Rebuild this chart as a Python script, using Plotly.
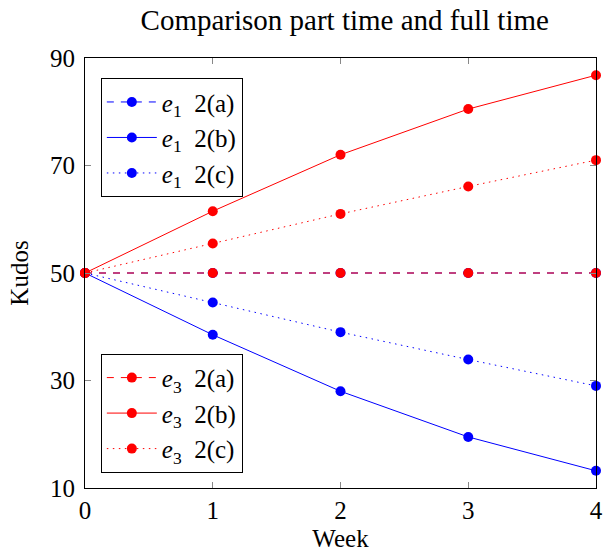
import plotly.graph_objects as go

weeks = [0, 1, 2, 3, 4]
e1_a = [50, 50, 50, 50, 50]
e1_b = [50, 38.5, 28.0, 19.5, 13.2]
e1_c = [50, 44.5, 39.0, 33.9, 29.0]
e3_a = [50, 50, 50, 50, 50]
e3_b = [50, 61.5, 72.0, 80.5, 86.8]
e3_c = [50, 55.5, 61.0, 66.1, 71.0]
y_ticks = [10, 30, 50, 70, 90]
x_ticks = [0, 1, 2, 3, 4]

FONT = "Liberation Serif"
BLUE = "#0000ff"
RED = "#ff0000"
DASH = "7px,7px"
DOT = "1.5px,4.5px"

series = [
    ("<i>e</i><sub>1</sub>  2(a)", e1_a, BLUE, DASH, "legend"),
    ("<i>e</i><sub>1</sub>  2(b)", e1_b, BLUE, "solid", "legend"),
    ("<i>e</i><sub>1</sub>  2(c)", e1_c, BLUE, DOT, "legend"),
    ("<i>e</i><sub>3</sub>  2(a)", e3_a, RED, DASH, "legend2"),
    ("<i>e</i><sub>3</sub>  2(b)", e3_b, RED, "solid", "legend2"),
    ("<i>e</i><sub>3</sub>  2(c)", e3_c, RED, DOT, "legend2"),
]

fig = go.Figure()
for i, (name, ys, col, dash, leg) in enumerate(series):
    fig.add_trace(go.Scatter(
        x=weeks, y=ys, name=name.replace("  ", "&nbsp;&nbsp;"), mode="lines+markers",
        line=dict(color=col, width=1, dash=dash),
        marker=dict(color=col, size=10, symbol="circle"),
        legend=leg, legendgroup=f"g{i}", cliponaxis=False,
    ))

legend_common = dict(
    bgcolor="white", bordercolor="black", borderwidth=1,
    font=dict(family=FONT, size=25, color="black"),
    xanchor="left", yanchor="top", traceorder="grouped",
    tracegroupgap=0, itemwidth=50,
)

fig.update_layout(
    width=608, height=558,
    margin=dict(l=85, r=5, t=58, b=70),
    paper_bgcolor="white", plot_bgcolor="white",
    font=dict(family=FONT, size=25, color="black"),
    title=dict(text="Comparison part time and full time", x=0.567, xanchor="center",
               y=1 - 20 / 558, yanchor="middle",
               font=dict(family=FONT, size=29, color="black")),
    showlegend=True,
    legend=dict(x=0.031, y=0.953, **legend_common),
    legend2=dict(x=0.031, y=0.312, **legend_common),
    xaxis=dict(
        range=[0, 4], tickvals=x_ticks, ticktext=[str(v) for v in x_ticks],
        showgrid=False, zeroline=False, showline=True, linecolor="black", linewidth=1,
        mirror="ticks", ticks="inside", ticklen=6, tickcolor="#888888",
        ticklabeloverflow="allow",
        tickfont=dict(family=FONT, size=25, color="black"),
        title=dict(text="Week", font=dict(family=FONT, size=25, color="black"), standoff=6),
    ),
    yaxis=dict(
        range=[10, 90], tickvals=y_ticks, ticktext=[str(v) for v in y_ticks],
        showgrid=False, zeroline=False, showline=True, linecolor="black", linewidth=1,
        mirror="ticks", ticks="inside", ticklen=6, tickcolor="#888888",
        ticklabeloverflow="allow", ticklabelstandoff=4,
        tickfont=dict(family=FONT, size=25, color="black"),
        title=dict(text="Kudos", font=dict(family=FONT, size=25, color="black"), standoff=14),
    ),
)

fig.write_html("out.html")
